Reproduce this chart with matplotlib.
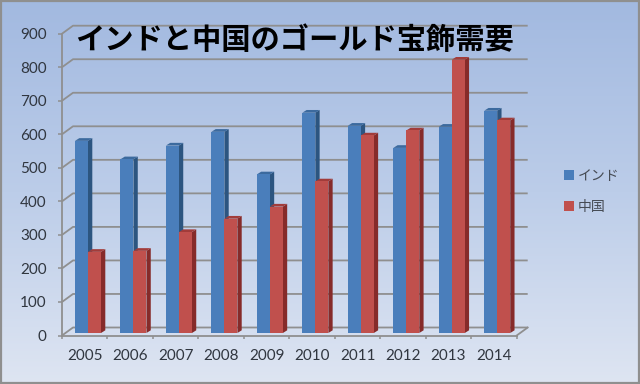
import numpy as np
import matplotlib
matplotlib.use("Agg")
import matplotlib.pyplot as plt
from matplotlib.patches import Polygon, Patch
from matplotlib.colors import LinearSegmentedColormap

years = ["2005", "2006", "2007", "2008", "2009", "2010", "2011", "2012", "2013", "2014"]
india = [573, 518, 559, 600, 473, 657, 618, 552, 615, 663]
china = [242, 245, 301, 341, 377, 452, 589, 604, 815, 634]
yticks = [0, 100, 200, 300, 400, 500, 600, 700, 800, 900]

plt.rcParams['font.family'] = ['Noto Sans CJK JP', 'DejaVu Sans']

W, H = 640.0, 384.0
fig = plt.figure(figsize=(6.4, 3.84), dpi=100)

# background gradient
bg = fig.add_axes([0, 0, 1, 1], zorder=0)
cmap = LinearSegmentedColormap.from_list("bg", ["#a2b9e0", "#bccde9", "#dee5f2"])
bg.imshow(np.linspace(0, 1, 256).reshape(-1, 1), aspect="auto", cmap=cmap, extent=[0, W, H, 0])
bg.set_xlim(0, W)
bg.set_ylim(H, 0)
bg.axis("off")
bg.add_patch(plt.Rectangle((1, 1), W - 2.5, H - 2.5, fill=False, ec="#8f8f8f", lw=1.6))

# front plane of the chart in pixels
x0, x1, y0, y1 = 62.0, 516.7, 335.5, 33.7
ax = fig.add_axes([x0 / W, 1 - y0 / H, (x1 - x0) / W, (y0 - y1) / H], zorder=1)
ax.patch.set_alpha(0)
ax.set_xlim(0, 10)
ax.set_ylim(0, 900)
px_x = 10 / (x1 - x0)
px_y = 900 / (y0 - y1)

gray = "#8f8f8f"
# back wall and floor
wall_dx = 11 * px_x
wall_dy = 8 * px_y
for v in yticks:
    ax.plot([0, wall_dx, 10 + wall_dx], [v, v + wall_dy, v + wall_dy], color=gray, lw=1.3,
            clip_on=False, zorder=1, solid_capstyle="butt")
ax.plot([10, 10 + wall_dx], [0, wall_dy], color=gray, lw=1.3, clip_on=False, zorder=1)

# 3d bars
bar_w = 13 * px_x
left = 13 * px_x
base = 2.5 * px_y
dep_x = 4.3 * px_x
dep_y = 2.7 * px_y


def bar3d(xs, vals, front, side, top, z):
    ax.bar(xs, vals, width=bar_w, bottom=base, align="edge", color=front, lw=0, zorder=z + 0.2, clip_on=False)
    for x, v in zip(xs, vals):
        t = base + v
        r = x + bar_w
        ax.add_patch(Polygon([(r, base), (r + dep_x, base + dep_y), (r + dep_x, t + dep_y), (r, t)],
                             fc=side, lw=0, zorder=z, clip_on=False))
        ax.add_patch(Polygon([(x, t), (x + dep_x, t + dep_y), (r + dep_x, t + dep_y), (r, t)],
                             fc=top, lw=0, zorder=z + 0.1, clip_on=False))


pos = np.arange(len(years))
bar3d(pos + left, india, "#4a7ebb", "#2c5580", "#3c6a9e", 2)
bar3d(pos + left + bar_w, china, "#c0504d", "#862b2a", "#a23c3a", 3)

# axes
for s in ["top", "right"]:
    ax.spines[s].set_visible(False)
for s in ["left", "bottom"]:
    ax.spines[s].set_color(gray)
    ax.spines[s].set_linewidth(1.3)
    ax.spines[s].set_zorder(5)
ax.set_yticks(yticks)
ax.set_yticklabels([str(v) for v in yticks], fontsize=11, color="#30363f", family=["Lato", "DejaVu Sans"])
ax.tick_params(axis="y", length=3, width=1.1, color=gray, pad=8)
ax.set_xticks(range(11))
ax.set_xticklabels([])
ax.tick_params(axis="x", which="major", length=2.5, width=1.1, color=gray)
ax.set_xticks(pos + 0.5, minor=True)
ax.set_xticklabels(years, minor=True, fontsize=11, color="#30363f", family=["Lato", "DejaVu Sans"])
ax.tick_params(axis="x", which="minor", length=0, pad=10)

# title over the plot
fig.text(294.5 / W, 1 - 39.5 / H, "インドと中国のゴールド宝飾需要", ha="center", va="center",
         fontsize=21.1, fontweight="bold", color="black", zorder=6)

# legend
handles = [Patch(fc="#4a7ebb", lw=0), Patch(fc="#c0504d", lw=0)]
leg = fig.legend(handles, ["インド", "中国"], loc="center left", bbox_to_anchor=(564 / W, 1 - 191.5 / H),
                 frameon=False, fontsize=10, labelcolor="#454a53", handlelength=0.75, handleheight=0.75,
                 handletextpad=0.25, labelspacing=1.25, borderpad=0, borderaxespad=0)
leg.set_zorder(6)

fig.savefig("out.png", dpi=100)
